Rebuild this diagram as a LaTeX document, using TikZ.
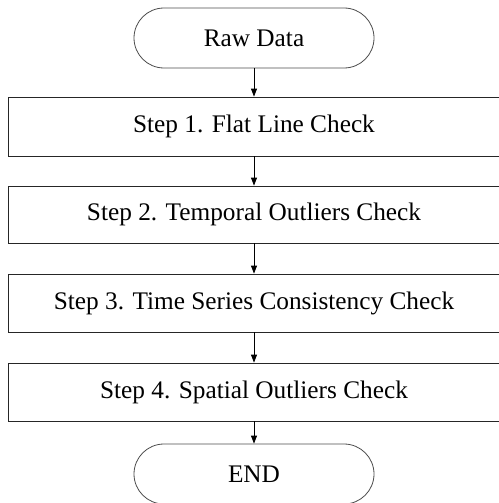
\documentclass[tikz,border=0pt]{standalone}
\usepackage{fontspec}
\setmainfont{Liberation Serif}
\usetikzlibrary{arrows.meta}
\begin{document}
\begin{tikzpicture}[x=1pt,y=-1pt,
  stepbox/.style={draw=black!85, line width=0.8pt, minimum width=492pt, inner sep=0pt, font=\fontsize{25.3}{30}\selectfont},
  term/.style={draw=black!70, line width=0.8pt, rounded corners=30pt, minimum width=240pt, minimum height=60pt, inner sep=0pt, font=\fontsize{25.3}{30}\selectfont},
  conn/.style={draw=black, line width=0.8pt, -{Triangle[length=8pt,width=6pt]}}]
\useasboundingbox (0,0) rectangle (498,503);
\node[term] (raw) at (254,38) {Raw Data};
\node[stepbox, minimum height=59pt] (s1) at (254,126.5) {Step 1. Flat Line Check};
\node[stepbox, minimum height=57pt] (s2) at (254,214.5) {Step 2. Temporal Outliers Check};
\node[stepbox, minimum height=58pt] (s3) at (254,303) {Step 3. Time Series Consistency Check};
\node[stepbox, minimum height=58pt] (s4) at (254,392) {Step 4. Spatial Outliers Check};
\node[term] (end) at (254,474) {END};
\draw[conn] (raw) -- (s1);
\draw[conn] (s1) -- (s2);
\draw[conn] (s2) -- (s3);
\draw[conn] (s3) -- (s4);
\draw[conn] (s4) -- (end);
\end{tikzpicture}
\end{document}
